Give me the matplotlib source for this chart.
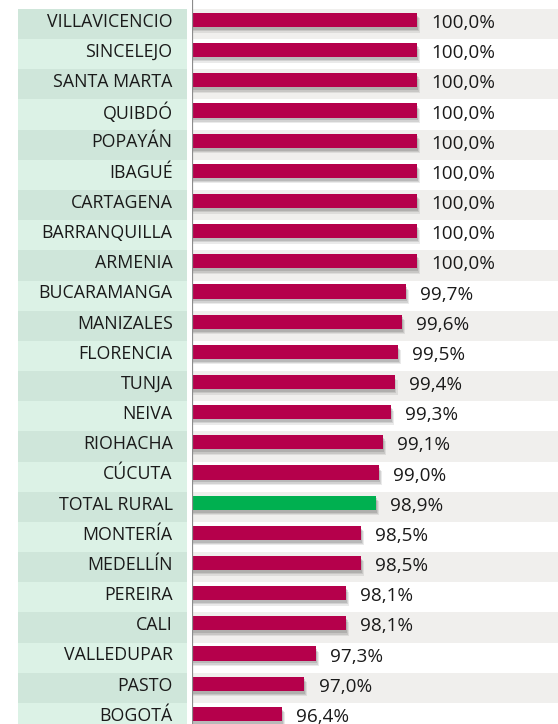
import matplotlib
matplotlib.use('Agg')
import matplotlib.pyplot as plt

plt.rcParams['font.family'] = ['Open Sans', 'DejaVu Sans']

cities = [
    'VILLAVICENCIO', 'SINCELEJO', 'SANTA MARTA', 'QUIBDÓ', 'POPAYÁN', 'IBAGUÉ',
    'CARTAGENA', 'BARRANQUILLA', 'ARMENIA', 'BUCARAMANGA', 'MANIZALES',
    'FLORENCIA', 'TUNJA', 'NEIVA', 'RIOHACHA', 'CÚCUTA', 'TOTAL RURAL',
    'MONTERÍA', 'MEDELLÍN', 'PEREIRA', 'CALI', 'VALLEDUPAR', 'PASTO', 'BOGOTÁ',
]
values = [
    100.0, 100.0, 100.0, 100.0, 100.0, 100.0, 100.0, 100.0, 100.0, 99.7, 99.6,
    99.5, 99.4, 99.3, 99.1, 99.0, 98.9, 98.5, 98.5, 98.1, 98.1, 97.3, 97.0, 96.4,
]
highlight = 'TOTAL RURAL'

BAR = '#b5004b'
GREEN = '#00b050'
W, H = 558, 724
ROW_PX = 30.17
TOP_PX = 20          # centre of the first row
X0, PX_PER = 94.0, 37.5

fig = plt.figure(figsize=(W / 100, H / 100), dpi=100)
fig.patch.set_facecolor('white')

ylim = ((H - TOP_PX) / ROW_PX, -TOP_PX / ROW_PX)
ax = fig.add_axes([192 / W, 0, 1 - 192 / W, 1])
lab = fig.add_axes([18 / W, 0, (187 - 18) / W, 1])

n = len(cities)
rows = list(range(n))

# row stripes
for i in rows:
    top, bot = i - 0.365, i + 0.635
    ax.axhspan(top, bot, color='#f0efed' if i % 2 == 0 else 'white', lw=0, zorder=0)
    lab.axhspan(top, bot, color='#cfe6da' if i % 2 == 0 else '#dcf2e6', lw=0, zorder=0)

# soft shadow under bars
dx, dy = 3 / PX_PER, 4 / ROW_PX
for k, a in [(1.0, 0.12), (0.66, 0.16), (0.33, 0.2)]:
    ax.barh([r + dy * k + 0.05 for r in rows], [v - X0 + dx * k for v in values],
            left=X0, height=0.47, color='#555555', alpha=a, lw=0, zorder=1)

colors = [GREEN if c == highlight else BAR for c in cities]
ax.barh(rows, [v - X0 for v in values], left=X0, height=0.47,
        color=colors, lw=0, zorder=2)

for r, v in zip(rows, values):
    ax.text(v + 14 / PX_PER, r + 0.1, f'{v:.1f}%'.replace('.', ','),
            va='center', ha='left', fontsize=13.6, color='#1a1a1a', zorder=3)

ax.axvline(X0, color='#8c8c8c', lw=1.6, zorder=4)
ax.set_xlim(X0, X0 + (W - 192) / PX_PER)
ax.set_ylim(*ylim)
ax.axis('off')

for r, c in zip(rows, cities):
    lab.text(0.915, r + 0.06, c, ha='right', va='center', fontsize=12.8, color='#1a1a1a',
             transform=lab.get_yaxis_transform())
lab.set_xlim(0, 1)
lab.set_ylim(*ylim)
lab.axis('off')

fig.savefig('out.png', dpi=100, facecolor='white')
